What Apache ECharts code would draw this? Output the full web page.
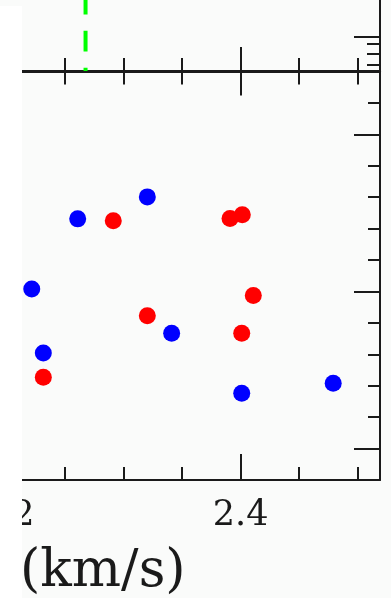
<!DOCTYPE html>
<html>
<head>
<meta charset="utf-8">
<script src="https://cdn.jsdelivr.net/npm/echarts@6/dist/echarts.min.js"></script>
<style>
html,body{margin:0;padding:0;background:#fafbfa;}
#chart{width:391px;height:598px;}
</style>
</head>
<body>
<div id="chart"></div>
<script>
// ---- data ----
var blueX = [2.2214, 2.2313, 2.2607, 2.3202, 2.3410, 2.4009, 2.4791];
var blueY = [10.08, 8.04, 12.31, 13.01, 8.67, 6.76, 7.08];
var redX  = [2.2313, 2.2911, 2.3202, 2.3909, 2.4014, 2.4108, 2.4009];
var redY  = [7.27, 12.25, 9.23, 12.32, 12.44, 9.87, 8.67];
var markerX = 2.2674;              // green dashed line (upper panel)
var xMajorTicks = [2.2, 2.4];
var xMinorTicks = [2.25, 2.3, 2.35, 2.45, 2.5];
var xTickLabels = ['2.2', '2.4'];
var yMajorTicks = [5, 10, 15];
var yMinorTicks = [6, 7, 8, 9, 11, 12, 13, 14, 16];
var topMajorTicks = [0.2595];
var topMinorTicks = [0.0458, 0.1298, 0.2061];
var xUnit = '(km/s)';

var AX = '#1a1a1a';
var XMIN = 2.2, XMAX = 2.5191;

function pairs(xs, ys){ return xs.map(function(x,i){return [x, ys[i]];}); }

function xAx(grid, pos, vals, len, showLine, labels){
  return {
    type:'value', gridIndex:grid, position:pos, min:XMIN, max:XMAX,
    axisLine:{show:showLine, onZero:false, lineStyle:{color:AX, width:2}},
    axisTick:{show:true, inside:true, length:len, customValues:vals, lineStyle:{color:AX, width:2}},
    axisLabel: labels ? {show:true, customValues:xMajorTicks, margin:18, color:'#1a1a1a',
        fontFamily:'DejaVu Serif', fontSize:35,
        formatter:function(v){ var i = xMajorTicks.indexOf(+v.toFixed(2)); return i>=0 ? xTickLabels[i] : ''; }}
      : {show:false},
    splitLine:{show:false}
  };
}
function yAx(grid, min, max, vals, len, showLine){
  return {
    type:'value', gridIndex:grid, position:'right', min:min, max:max,
    axisLine:{show:showLine, onZero:false, lineStyle:{color:AX, width:2}},
    axisTick:{show:true, inside:true, length:len, customValues:vals, lineStyle:{color:AX, width:2}},
    axisLabel:{show:false}, splitLine:{show:false}
  };
}

var chart = echarts.init(document.getElementById('chart'));
chart.setOption({
  animation:false,
  backgroundColor:'#fafbfa',
  grid:[
    {left:6.7, right:11, top:-60, bottom:527, containLabel:false, outerBoundsMode:'none'},
    {left:6.7, right:11, top:71.5, bottom:118, containLabel:false, outerBoundsMode:'none'}
  ],
  xAxis:[
    xAx(0,'bottom',xMajorTicks,24,true,false),
    xAx(0,'bottom',xMinorTicks,13,false,false),
    xAx(1,'top',xMajorTicks,24,true,false),
    xAx(1,'top',xMinorTicks,13,false,false),
    xAx(1,'bottom',xMajorTicks,26,true,true),
    xAx(1,'bottom',xMinorTicks,13,false,false)
  ],
  yAxis:[
    yAx(0,0,1,topMajorTicks,26,true),
    yAx(0,0,1,topMinorTicks,13,false),
    yAx(1,4,17,yMajorTicks,26,true),
    yAx(1,4,17,yMinorTicks,12,false)
  ],
  series:[
    {type:'line', xAxisIndex:0, yAxisIndex:0, data:[[markerX,0],[markerX,1]], symbol:'none',
     lineStyle:{color:'#00ff00', width:4, type:[20.7,16.3], dashOffset:17.4}},
    {type:'scatter', xAxisIndex:4, yAxisIndex:2, data:pairs(blueX, blueY), symbol:'circle', symbolSize:17,
     itemStyle:{color:'#0000ff', opacity:1}},
    {type:'scatter', xAxisIndex:4, yAxisIndex:2, data:pairs(redX, redY), symbol:'circle', symbolSize:17,
     itemStyle:{color:'#ff0000', opacity:1}}
  ],
  graphic:[
    {type:'rect', left:0, top:6, shape:{x:0,y:0,width:22,height:592}, style:{fill:'#ffffff'}, z:100},
    {type:'text', left:20, top:546, z:101, style:{text:xUnit, fill:'#1a1a1a', font:'52px "DejaVu Serif"'}}
  ]
});
</script>
</body>
</html>
